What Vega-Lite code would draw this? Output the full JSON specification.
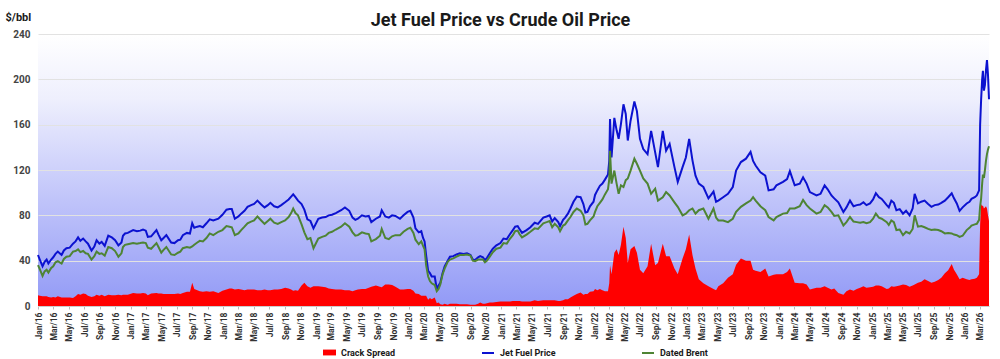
{
  "$schema": "https://vega.github.io/schema/vega-lite/v6.json",
  "width": 951,
  "height": 272,
  "autosize": {"type": "none"},
  "padding": {"left": 38, "top": 34, "right": 11, "bottom": 53},
  "background": "#ffffff",
  "view": {"stroke": null, "fill": {"gradient": "linear", "x1": 0, "y1": 0, "x2": 0, "y2": 1, "stops": [{"offset": 0, "color": "#ffffff"}, {"offset": 0.24, "color": "#eeeffd"}, {"offset": 0.61, "color": "#c0c4fa"}, {"offset": 1, "color": "#929af6"}]}},
  "title": {"text": "Jet Fuel Price vs Crude Oil Price", "fontSize": 18, "fontWeight": "bold", "font": "Roboto", "color": "#1a1a1a", "anchor": "middle", "frame": "group", "dx": -13, "offset": 0, "dy": 19},
  "config": {"font": "Roboto"},
  "resolve": {"legend": {"fill": "independent", "stroke": "independent"}},
  "data": {"values": [
    {"d":"2016-01-01","j":45,"b":36,"c":9.5},
    {"d":"2016-01-08","j":41,"b":32.5,"c":9},
    {"d":"2016-01-19","j":35,"b":26.5,"c":8.5},
    {"d":"2016-01-27","j":39,"b":30.5,"c":8.5},
    {"d":"2016-02-04","j":41,"b":32,"c":8.5},
    {"d":"2016-02-11","j":37.5,"b":29.5,"c":8},
    {"d":"2016-02-22","j":41,"b":33.5,"c":7.5},
    {"d":"2016-03-01","j":43,"b":35,"c":8},
    {"d":"2016-03-10","j":46,"b":38.5,"c":7.5},
    {"d":"2016-03-19","j":48,"b":39.5,"c":8.5},
    {"d":"2016-04-03","j":45,"b":37.5,"c":7.5},
    {"d":"2016-04-12","j":49,"b":41.5,"c":7.5},
    {"d":"2016-04-22","j":51,"b":43.5,"c":7.5},
    {"d":"2016-05-05","j":51.5,"b":44,"c":7.5},
    {"d":"2016-05-18","j":55,"b":48,"c":7},
    {"d":"2016-05-28","j":57,"b":48.5,"c":8.5},
    {"d":"2016-06-07","j":60.5,"b":50,"c":10.5},
    {"d":"2016-06-16","j":57.5,"b":47.5,"c":10},
    {"d":"2016-06-27","j":59.5,"b":48.5,"c":11},
    {"d":"2016-07-07","j":57,"b":46.5,"c":10.5},
    {"d":"2016-07-16","j":55,"b":46,"c":9},
    {"d":"2016-07-30","j":49,"b":41,"c":8},
    {"d":"2016-08-10","j":52.5,"b":44,"c":8.5},
    {"d":"2016-08-19","j":58,"b":48,"c":10},
    {"d":"2016-08-30","j":55,"b":46,"c":9},
    {"d":"2016-09-08","j":56.5,"b":46.5,"c":10},
    {"d":"2016-09-20","j":53,"b":44.5,"c":8.5},
    {"d":"2016-10-04","j":62,"b":52,"c":10},
    {"d":"2016-10-18","j":60.5,"b":51,"c":9.5},
    {"d":"2016-10-31","j":58,"b":48.5,"c":9.5},
    {"d":"2016-11-13","j":53.5,"b":43.5,"c":10},
    {"d":"2016-11-25","j":56,"b":46.5,"c":9.5},
    {"d":"2016-12-01","j":62,"b":52,"c":10},
    {"d":"2016-12-09","j":64,"b":54,"c":10},
    {"d":"2016-12-20","j":64.5,"b":54.5,"c":10},
    {"d":"2017-01-10","j":67,"b":55.5,"c":11.5},
    {"d":"2017-01-25","j":66,"b":55,"c":11},
    {"d":"2017-02-07","j":66.5,"b":55.5,"c":11},
    {"d":"2017-02-18","j":67.5,"b":56,"c":11.5},
    {"d":"2017-03-01","j":66.5,"b":55.5,"c":11},
    {"d":"2017-03-09","j":61,"b":51.5,"c":9.5},
    {"d":"2017-03-22","j":61.5,"b":50.5,"c":11},
    {"d":"2017-04-12","j":67,"b":55.5,"c":11.5},
    {"d":"2017-04-20","j":63,"b":52,"c":11},
    {"d":"2017-05-01","j":58,"b":47,"c":11},
    {"d":"2017-05-10","j":60,"b":49.5,"c":10.5},
    {"d":"2017-05-21","j":62.5,"b":52,"c":10.5},
    {"d":"2017-06-09","j":56,"b":45.5,"c":10.5},
    {"d":"2017-06-22","j":55.5,"b":45,"c":10.5},
    {"d":"2017-07-06","j":58,"b":47,"c":11},
    {"d":"2017-07-15","j":58.5,"b":48,"c":10.5},
    {"d":"2017-07-25","j":62.5,"b":51,"c":11.5},
    {"d":"2017-08-10","j":64.5,"b":52,"c":12.5},
    {"d":"2017-08-22","j":64,"b":51.5,"c":12.5},
    {"d":"2017-08-31","j":73,"b":52.5,"c":20.5},
    {"d":"2017-09-08","j":69,"b":54,"c":15},
    {"d":"2017-09-20","j":70,"b":56,"c":14},
    {"d":"2017-09-30","j":70.5,"b":57.5,"c":13},
    {"d":"2017-10-12","j":69.5,"b":57,"c":12.5},
    {"d":"2017-10-26","j":73,"b":60,"c":13},
    {"d":"2017-11-08","j":76.5,"b":64,"c":12.5},
    {"d":"2017-11-22","j":75.5,"b":62.5,"c":13},
    {"d":"2017-12-12","j":77,"b":65.5,"c":11.5},
    {"d":"2017-12-28","j":80.5,"b":67,"c":13.5},
    {"d":"2018-01-13","j":85,"b":70.5,"c":14.5},
    {"d":"2018-01-25","j":85.5,"b":70,"c":15.5},
    {"d":"2018-02-03","j":85.5,"b":69.5,"c":15.5},
    {"d":"2018-02-15","j":77,"b":62.5,"c":14.5},
    {"d":"2018-03-01","j":79,"b":64,"c":15},
    {"d":"2018-03-12","j":81.5,"b":67,"c":14.5},
    {"d":"2018-03-25","j":84,"b":70,"c":14},
    {"d":"2018-04-06","j":87.5,"b":73,"c":14.5},
    {"d":"2018-04-20","j":89,"b":74.5,"c":14.5},
    {"d":"2018-05-02","j":90,"b":75.5,"c":14.5},
    {"d":"2018-05-15","j":93,"b":79,"c":14},
    {"d":"2018-05-30","j":89.5,"b":75.5,"c":14},
    {"d":"2018-06-12","j":87,"b":72.5,"c":14.5},
    {"d":"2018-06-25","j":89,"b":75,"c":14},
    {"d":"2018-07-05","j":91,"b":77,"c":14},
    {"d":"2018-07-20","j":88,"b":73.5,"c":14.5},
    {"d":"2018-08-03","j":87,"b":72.5,"c":14.5},
    {"d":"2018-08-17","j":89,"b":74,"c":15},
    {"d":"2018-09-01","j":91.5,"b":75.5,"c":16},
    {"d":"2018-09-15","j":94,"b":78.5,"c":15.5},
    {"d":"2018-09-25","j":96.5,"b":82,"c":14.5},
    {"d":"2018-10-03","j":98.5,"b":86,"c":13.5},
    {"d":"2018-10-12","j":96,"b":82,"c":14},
    {"d":"2018-10-22","j":93,"b":80,"c":13.5},
    {"d":"2018-11-05","j":90,"b":72,"c":18},
    {"d":"2018-11-16","j":85,"b":65,"c":20.5},
    {"d":"2018-11-28","j":76.5,"b":59,"c":17.5},
    {"d":"2018-12-10","j":75,"b":60,"c":16},
    {"d":"2018-12-22","j":68.5,"b":51,"c":17.5},
    {"d":"2019-01-10","j":77,"b":59.5,"c":17.5},
    {"d":"2019-01-25","j":78,"b":61,"c":17},
    {"d":"2019-02-08","j":78.5,"b":62,"c":16.5},
    {"d":"2019-02-20","j":80,"b":64.5,"c":15.5},
    {"d":"2019-03-05","j":80.5,"b":65.5,"c":15},
    {"d":"2019-03-20","j":82,"b":67.5,"c":14.5},
    {"d":"2019-04-10","j":84.5,"b":70,"c":14.5},
    {"d":"2019-04-25","j":87,"b":73,"c":14},
    {"d":"2019-05-12","j":84,"b":70,"c":14},
    {"d":"2019-05-25","j":78,"b":65,"c":13},
    {"d":"2019-06-05","j":76,"b":62,"c":14},
    {"d":"2019-06-15","j":77,"b":62.5,"c":14.5},
    {"d":"2019-07-01","j":80,"b":65,"c":15},
    {"d":"2019-07-15","j":79,"b":64,"c":15},
    {"d":"2019-07-28","j":79.5,"b":63.5,"c":16},
    {"d":"2019-08-07","j":74,"b":57,"c":17},
    {"d":"2019-08-25","j":77,"b":59,"c":18},
    {"d":"2019-09-10","j":79,"b":62,"c":17},
    {"d":"2019-09-17","j":84.5,"b":68,"c":16.5},
    {"d":"2019-10-01","j":79,"b":60,"c":19},
    {"d":"2019-10-15","j":78,"b":59,"c":19},
    {"d":"2019-10-28","j":80,"b":61.5,"c":18.5},
    {"d":"2019-11-10","j":79.5,"b":62.5,"c":17},
    {"d":"2019-11-28","j":77,"b":62.5,"c":14.5},
    {"d":"2019-12-12","j":80,"b":65.5,"c":14.5},
    {"d":"2019-12-28","j":83,"b":68,"c":15},
    {"d":"2020-01-08","j":84,"b":69,"c":15},
    {"d":"2020-01-20","j":78,"b":64.5,"c":13.5},
    {"d":"2020-01-28","j":68.5,"b":58.5,"c":11},
    {"d":"2020-02-10","j":65,"b":54.5,"c":10.5},
    {"d":"2020-02-20","j":66,"b":57,"c":9},
    {"d":"2020-02-27","j":60,"b":53,"c":9},
    {"d":"2020-03-04","j":57,"b":50,"c":9},
    {"d":"2020-03-10","j":45,"b":36,"c":9},
    {"d":"2020-03-18","j":31,"b":26,"c":5.5},
    {"d":"2020-03-25","j":29,"b":22,"c":7},
    {"d":"2020-04-01","j":26,"b":20,"c":6},
    {"d":"2020-04-13","j":26,"b":18.5,"c":7.5},
    {"d":"2020-04-21","j":15,"b":13,"c":2.5},
    {"d":"2020-04-28","j":18,"b":15,"c":3},
    {"d":"2020-05-05","j":20.5,"b":19,"c":1.5},
    {"d":"2020-05-14","j":29,"b":28,"c":1},
    {"d":"2020-05-22","j":35,"b":33,"c":2},
    {"d":"2020-06-03","j":40,"b":39,"c":1},
    {"d":"2020-06-12","j":43.5,"b":41,"c":2},
    {"d":"2020-06-25","j":44,"b":42,"c":2},
    {"d":"2020-07-08","j":45.5,"b":43.5,"c":2},
    {"d":"2020-07-21","j":46.5,"b":45,"c":1.5},
    {"d":"2020-08-05","j":46,"b":45,"c":1.5},
    {"d":"2020-08-18","j":46.5,"b":45.5,"c":1.5},
    {"d":"2020-09-01","j":45,"b":44.5,"c":1},
    {"d":"2020-09-10","j":41,"b":40,"c":1},
    {"d":"2020-09-19","j":40.5,"b":39.5,"c":1},
    {"d":"2020-10-01","j":43,"b":41,"c":2},
    {"d":"2020-10-09","j":44,"b":41,"c":3},
    {"d":"2020-10-20","j":43,"b":41,"c":2},
    {"d":"2020-10-28","j":40.5,"b":38.5,"c":2},
    {"d":"2020-11-05","j":42.5,"b":40,"c":2.5},
    {"d":"2020-11-16","j":46.5,"b":43.5,"c":3},
    {"d":"2020-11-28","j":50.5,"b":47.5,"c":3},
    {"d":"2020-12-12","j":53.5,"b":50.5,"c":3.5},
    {"d":"2020-12-28","j":55.5,"b":51.5,"c":4},
    {"d":"2021-01-09","j":59.5,"b":55.5,"c":4},
    {"d":"2021-01-22","j":59,"b":55,"c":4},
    {"d":"2021-02-04","j":63.5,"b":59.5,"c":4},
    {"d":"2021-02-15","j":67,"b":62.5,"c":4.5},
    {"d":"2021-02-24","j":70,"b":66,"c":4.5},
    {"d":"2021-03-06","j":70.5,"b":66.5,"c":4.5},
    {"d":"2021-03-13","j":68,"b":63.5,"c":4.5},
    {"d":"2021-03-23","j":64.5,"b":60.5,"c":4},
    {"d":"2021-04-10","j":67,"b":63,"c":4},
    {"d":"2021-04-25","j":69.5,"b":65.5,"c":4},
    {"d":"2021-05-12","j":73.5,"b":68.5,"c":5},
    {"d":"2021-05-25","j":72.5,"b":68,"c":4.5},
    {"d":"2021-06-15","j":78,"b":73,"c":5},
    {"d":"2021-06-28","j":79,"b":74,"c":5},
    {"d":"2021-07-10","j":80,"b":75,"c":5},
    {"d":"2021-07-20","j":74.5,"b":69.5,"c":5},
    {"d":"2021-07-30","j":77.5,"b":72.5,"c":5},
    {"d":"2021-08-13","j":74,"b":69.5,"c":4.5},
    {"d":"2021-08-20","j":70.5,"b":66,"c":4.5},
    {"d":"2021-09-01","j":76,"b":71,"c":5},
    {"d":"2021-09-09","j":78,"b":72,"c":6},
    {"d":"2021-09-20","j":81.5,"b":75.5,"c":6},
    {"d":"2021-09-30","j":86,"b":78.5,"c":7.5},
    {"d":"2021-10-12","j":92,"b":83,"c":9},
    {"d":"2021-10-25","j":96.5,"b":86,"c":10.5},
    {"d":"2021-11-09","j":96,"b":84,"c":12},
    {"d":"2021-11-20","j":90,"b":80,"c":10},
    {"d":"2021-11-28","j":82.5,"b":72,"c":10.5},
    {"d":"2021-12-06","j":83,"b":72.5,"c":10.5},
    {"d":"2021-12-16","j":88,"b":75.5,"c":12.5},
    {"d":"2021-12-30","j":92,"b":79,"c":13},
    {"d":"2022-01-05","j":98,"b":83,"c":15},
    {"d":"2022-01-14","j":102,"b":88,"c":14},
    {"d":"2022-01-24","j":106,"b":91,"c":15},
    {"d":"2022-02-03","j":108,"b":94,"c":14},
    {"d":"2022-02-13","j":111.5,"b":98.5,"c":13},
    {"d":"2022-02-25","j":116,"b":103,"c":13},
    {"d":"2022-03-02","j":128,"b":112,"c":20},
    {"d":"2022-03-05","j":165,"b":137,"c":36},
    {"d":"2022-03-11","j":131,"b":108,"c":28},
    {"d":"2022-03-22","j":166,"b":119.5,"c":47},
    {"d":"2022-03-31","j":155,"b":108,"c":50},
    {"d":"2022-04-08","j":147.5,"b":99,"c":45},
    {"d":"2022-04-17","j":160.5,"b":106.5,"c":54},
    {"d":"2022-04-27","j":178,"b":105,"c":70},
    {"d":"2022-05-06","j":169.5,"b":111,"c":60},
    {"d":"2022-05-14","j":146,"b":112.5,"c":38},
    {"d":"2022-05-25","j":163.5,"b":119.5,"c":50},
    {"d":"2022-06-09","j":180.5,"b":130,"c":53},
    {"d":"2022-06-19","j":172,"b":125.5,"c":47},
    {"d":"2022-07-01","j":147.5,"b":119.5,"c":32},
    {"d":"2022-07-14","j":138.5,"b":112.5,"c":29},
    {"d":"2022-07-31","j":134,"b":108,"c":35},
    {"d":"2022-08-14","j":154.5,"b":99,"c":55},
    {"d":"2022-08-30","j":135.5,"b":103.5,"c":36},
    {"d":"2022-09-10","j":122.5,"b":93,"c":38},
    {"d":"2022-09-29","j":154.5,"b":96,"c":55},
    {"d":"2022-10-12","j":137,"b":100.5,"c":44},
    {"d":"2022-10-26","j":143,"b":97.5,"c":44},
    {"d":"2022-11-14","j":122.5,"b":91.5,"c":33},
    {"d":"2022-11-27","j":109.5,"b":87.5,"c":28},
    {"d":"2022-12-16","j":122.5,"b":80,"c":42},
    {"d":"2022-12-29","j":131,"b":81.5,"c":50},
    {"d":"2023-01-11","j":147.5,"b":84.5,"c":63},
    {"d":"2023-01-24","j":128.5,"b":86,"c":45},
    {"d":"2023-02-05","j":115,"b":81.5,"c":33},
    {"d":"2023-02-18","j":108,"b":84.5,"c":23.5},
    {"d":"2023-03-08","j":105,"b":86,"c":20},
    {"d":"2023-03-28","j":95,"b":77,"c":17.5},
    {"d":"2023-04-17","j":101,"b":86,"c":15},
    {"d":"2023-04-27","j":92,"b":78,"c":14},
    {"d":"2023-05-06","j":93,"b":75.5,"c":17.5},
    {"d":"2023-05-25","j":96,"b":75.5,"c":20},
    {"d":"2023-06-13","j":99,"b":74,"c":25},
    {"d":"2023-07-02","j":105,"b":77,"c":28},
    {"d":"2023-07-15","j":119.5,"b":83,"c":36.5},
    {"d":"2023-08-03","j":127,"b":87.5,"c":42},
    {"d":"2023-08-23","j":130,"b":90.5,"c":40},
    {"d":"2023-09-10","j":136,"b":93,"c":40},
    {"d":"2023-09-20","j":128,"b":96,"c":32},
    {"d":"2023-09-30","j":124,"b":93,"c":31},
    {"d":"2023-10-19","j":118,"b":88,"c":30},
    {"d":"2023-11-07","j":115,"b":84.5,"c":33},
    {"d":"2023-11-20","j":102,"b":78.5,"c":26},
    {"d":"2023-12-10","j":103,"b":75.5,"c":27.5},
    {"d":"2023-12-21","j":106.5,"b":78.5,"c":28},
    {"d":"2024-01-16","j":109.5,"b":81.5,"c":28},
    {"d":"2024-02-01","j":112,"b":82,"c":30},
    {"d":"2024-02-12","j":119,"b":86,"c":33},
    {"d":"2024-03-02","j":106.5,"b":86,"c":20.5},
    {"d":"2024-03-22","j":108,"b":88,"c":20},
    {"d":"2024-04-04","j":113.5,"b":93.5,"c":20},
    {"d":"2024-04-18","j":108,"b":89,"c":19},
    {"d":"2024-05-01","j":100.5,"b":86,"c":14.5},
    {"d":"2024-05-27","j":97.5,"b":81.5,"c":16},
    {"d":"2024-06-12","j":99,"b":83,"c":16},
    {"d":"2024-06-28","j":106.5,"b":89,"c":17.5},
    {"d":"2024-07-10","j":103,"b":87,"c":16},
    {"d":"2024-07-25","j":97.5,"b":83,"c":14.5},
    {"d":"2024-08-05","j":95,"b":79.5,"c":15.5},
    {"d":"2024-08-21","j":91.5,"b":80,"c":11.5},
    {"d":"2024-09-10","j":83,"b":71,"c":10},
    {"d":"2024-09-22","j":87,"b":74,"c":13},
    {"d":"2024-10-06","j":93,"b":78.5,"c":14.5},
    {"d":"2024-10-20","j":88,"b":74.5,"c":13.5},
    {"d":"2024-11-02","j":89,"b":74,"c":15},
    {"d":"2024-11-15","j":89.5,"b":73.5,"c":16},
    {"d":"2024-11-28","j":91.5,"b":74,"c":17.5},
    {"d":"2024-12-10","j":89,"b":73,"c":16},
    {"d":"2024-12-24","j":90.5,"b":74,"c":16.5},
    {"d":"2025-01-05","j":94,"b":77,"c":17},
    {"d":"2025-01-16","j":99.5,"b":81.5,"c":18},
    {"d":"2025-01-28","j":96,"b":78,"c":18},
    {"d":"2025-02-08","j":94.5,"b":77,"c":17.5},
    {"d":"2025-02-28","j":89,"b":74,"c":15},
    {"d":"2025-03-08","j":87,"b":71.5,"c":15.5},
    {"d":"2025-03-18","j":93,"b":75.5,"c":17.5},
    {"d":"2025-03-28","j":91,"b":74,"c":17},
    {"d":"2025-04-07","j":84.5,"b":67,"c":17.5},
    {"d":"2025-04-20","j":85.5,"b":67.5,"c":18},
    {"d":"2025-05-03","j":81.5,"b":62.5,"c":19},
    {"d":"2025-05-15","j":84,"b":65.5,"c":18.5},
    {"d":"2025-05-29","j":80,"b":64,"c":17},
    {"d":"2025-06-10","j":86,"b":68,"c":18},
    {"d":"2025-06-18","j":99,"b":80,"c":19},
    {"d":"2025-07-01","j":90.5,"b":70,"c":20.5},
    {"d":"2025-07-14","j":92,"b":70.5,"c":21.5},
    {"d":"2025-07-27","j":93,"b":69.5,"c":23.5},
    {"d":"2025-08-10","j":90,"b":68,"c":22},
    {"d":"2025-08-23","j":87.5,"b":67,"c":20.5},
    {"d":"2025-09-05","j":89,"b":67.5,"c":21.5},
    {"d":"2025-09-19","j":89.5,"b":67,"c":23},
    {"d":"2025-10-01","j":91,"b":66,"c":25},
    {"d":"2025-10-15","j":93,"b":64,"c":29},
    {"d":"2025-10-28","j":96,"b":64.5,"c":31.5},
    {"d":"2025-11-11","j":99.5,"b":64,"c":37},
    {"d":"2025-11-20","j":95,"b":63,"c":32},
    {"d":"2025-12-01","j":90.5,"b":62.5,"c":28},
    {"d":"2025-12-12","j":84,"b":61,"c":23.5},
    {"d":"2025-12-24","j":87,"b":62,"c":25},
    {"d":"2026-01-09","j":90.5,"b":67,"c":23.5},
    {"d":"2026-01-20","j":92,"b":69,"c":23},
    {"d":"2026-01-28","j":94.5,"b":71,"c":23.5},
    {"d":"2026-02-10","j":96,"b":72,"c":24},
    {"d":"2026-02-18","j":97.5,"b":72.5,"c":25},
    {"d":"2026-02-27","j":102,"b":76,"c":28},
    {"d":"2026-03-03","j":160,"b":88,"c":72},
    {"d":"2026-03-07","j":182.5,"b":95,"c":90},
    {"d":"2026-03-11","j":200,"b":108,"c":88},
    {"d":"2026-03-14","j":207.5,"b":116,"c":89},
    {"d":"2026-03-18","j":190,"b":113,"c":86},
    {"d":"2026-03-22","j":195,"b":120,"c":87},
    {"d":"2026-03-26","j":208,"b":128,"c":88},
    {"d":"2026-03-30","j":217,"b":134,"c":86},
    {"d":"2026-04-03","j":204,"b":138,"c":80},
    {"d":"2026-04-07","j":182.5,"b":141,"c":75}
  ]},
  "encoding": {
    "x": {"field": "d", "type": "temporal", "scale": {"nice": false},
      "axis": {"title": null, "format": "%b/%y", "tickCount": {"interval": "month", "step": 2}, "labelAngle": -90, "labelAlign": "right", "labelBaseline": "middle", "labelFontSize": 8.5, "labelFontWeight": "bold", "labelColor": "#333333", "labelPadding": 3, "ticks": true, "tickSize": 3, "tickColor": "#bbbbbb", "grid": false, "domain": true, "domainColor": "#cccccc", "labelOverlap": false, "labelFlush": false}}
  },
  "layer": [
    {
      "mark": {"type": "area", "interpolate": "linear", "opacity": 1},
      "encoding": {
        "y": {"field": "c", "type": "quantitative", "stack": null, "scale": {"domain": [0, 240], "nice": false},
          "axis": {"title": "$/bbl", "values": [0,20,40,60,80,100,120,140,160,180,200,220,240], "titleAngle": 0, "titleX": -33, "titleY": -14, "titleAlign": "left", "titleBaseline": "alphabetic", "titleFontSize": 11, "titleFontWeight": "bold", "titleColor": "#1a1a1a", "labelFontSize": 10, "labelFontWeight": "bold", "labelColor": "#444444", "labelPadding": 8, "ticks": false, "domain": false, "grid": true, "gridColor": "#e2e2e2", "gridWidth": 1}},
        "fill": {"datum": "Crack Spread", "type": "nominal",
          "scale": {"domain": ["Crack Spread"], "range": ["#ff0000"]},
          "legend": {"orient": "none", "legendX": 285, "legendY": 312, "direction": "horizontal", "title": null, "padding": 0, "labelFontSize": 9, "labelFontWeight": "bold", "labelColor": "#1a1a1a", "labelOffset": 5, "symbolType": "M-1,-0.45H1V0.45H-1Z", "symbolSize": 169, "symbolStrokeWidth": 0, "symbolOpacity": 1}}
      }
    },
    {
      "mark": {"type": "line", "interpolate": "linear", "strokeWidth": 2},
      "encoding": {
        "y": {"field": "j", "type": "quantitative"},
        "stroke": {"datum": "Jet Fuel Price", "type": "nominal",
          "scale": {"domain": ["Jet Fuel Price", "Dated Brent"], "range": ["#0c12d0", "#4e8434"]},
          "legend": {"orient": "none", "legendX": 443, "legendY": 312, "direction": "horizontal", "title": null, "padding": 0, "columnPadding": 82, "labelFontSize": 9, "labelFontWeight": "bold", "labelColor": "#1a1a1a", "labelOffset": 5, "symbolType": "stroke", "symbolSize": 144, "symbolStrokeWidth": 2, "symbolOpacity": 1}}
      }
    },
    {
      "mark": {"type": "line", "interpolate": "linear", "strokeWidth": 2},
      "encoding": {
        "y": {"field": "b", "type": "quantitative"},
        "stroke": {"datum": "Dated Brent", "type": "nominal", "legend": null}
      }
    }
  ]
}
